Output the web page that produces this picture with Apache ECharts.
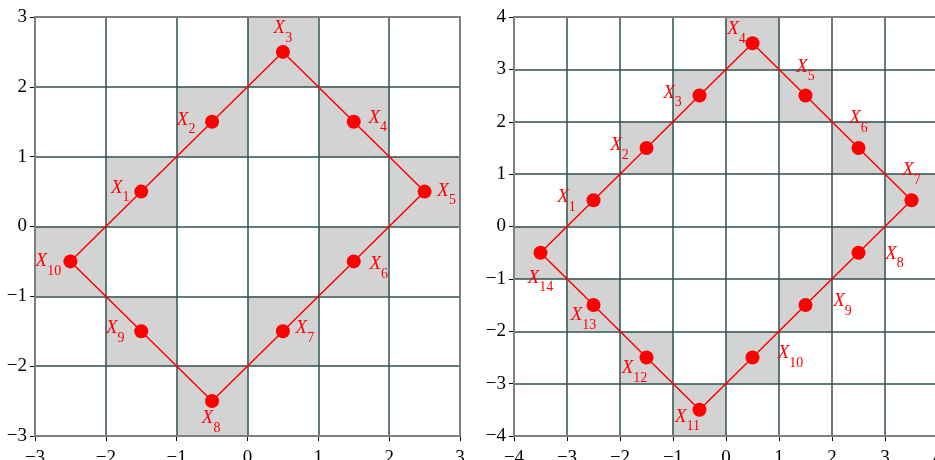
<!DOCTYPE html>
<html>
<head>
<meta charset="utf-8">
<script src="https://cdn.jsdelivr.net/npm/echarts@6/dist/echarts.min.js"></script>
<style>
  html, body { margin: 0; padding: 0; background: #fff; }
  #chart { width: 935px; height: 460px; }
</style>
</head>
<body>
<div id="chart"></div>
<script>
  // left polygon: X1..X10
  const leftX = [-1.5, -0.5, 0.5, 1.5, 2.5, 1.5, 0.5, -0.5, -1.5, -2.5];
  const leftY = [0.5, 1.5, 2.5, 1.5, 0.5, -0.5, -1.5, -2.5, -1.5, -0.5];
  // right polygon: X1..X14
  const rightX = [-2.5, -1.5, -0.5, 0.5, 1.5, 2.5, 3.5, 2.5, 1.5, 0.5, -0.5, -1.5, -2.5, -3.5];
  const rightY = [0.5, 1.5, 2.5, 3.5, 2.5, 1.5, 0.5, -0.5, -1.5, -2.5, -3.5, -2.5, -1.5, -0.5];
  const leftTicks = [-3, 3];
  const rightTicks = [-4, 4];

  // where each label's "X" sits relative to its point (px)
  const leftLabelOffset = [[-21, -4], [-26, -2], [0, -24], [24, -4], [22, -1], [25, 3], [22, -3], [-1, 17], [-26, -3], [-22, 0]];
  const rightLabelOffset = [[-27, -3], [-27, -3], [-27, -3], [-16, -14], [0, -29], [0, -30], [0, -30], [36, 1], [37, -4], [38, -4], [-12, 7], [-12, 11], [-10, 10], [0, 25]];

  const RED = '#ff0000';
  const SERIF = "'Liberation Serif', 'Times New Roman', serif";

  const richLabel = {
    x: { fontFamily: SERIF, fontStyle: 'italic', fontSize: 19, color: RED, lineHeight: 18 },
    s: { fontFamily: SERIF, fontSize: 14, color: RED, lineHeight: 14, padding: [20, 0, 0, 0] }
  };

  function polyData(xs, ys, offs) {
    const d = xs.map((x, i) => ({
      value: [x, ys[i]],
      label: { show: true, position: 'inside', offset: offs[i], formatter: '{x|X}{s|' + (i + 1) + '}', rich: richLabel }
    }));
    // close the loop
    d.push({ value: [xs[0], ys[0]], symbol: 'none', label: { show: false } });
    return d;
  }

  function cellData(xs, ys) {
    return xs.map((x, i) => [Math.floor(x), Math.floor(ys[i])]);
  }

  function renderCell(params, api) {
    const x0 = api.value(0), y0 = api.value(1);
    const p0 = api.coord([x0, y0 + 1]);
    const p1 = api.coord([x0 + 1, y0]);
    return {
      type: 'rect',
      shape: { x: p0[0], y: p0[1], width: p1[0] - p0[0], height: p1[1] - p0[1] },
      style: { fill: '#d3d3d3' }
    };
  }

  const fmt = v => String(v).replace('-', '\u2212');

  function axis(range, idx, margin) {
    return {
      type: 'value', gridIndex: idx, min: range[0], max: range[1], interval: 1, z: 3,
      axisLine: { show: true, onZero: false, lineStyle: { color: '#000', width: 1 } },
      axisTick: { show: true, length: 5, lineStyle: { color: '#000' } },
      axisLabel: { fontFamily: SERIF, fontSize: 19, color: '#000', margin: margin, formatter: fmt },
      splitLine: { show: true, lineStyle: { color: '#2f4f4f', width: 1.5 } }
    };
  }

  const option = {
    animation: false,
    textStyle: { fontFamily: SERIF },
    grid: [
      { left: 35, top: 17, width: 425, height: 419, outerBoundsMode: 'none', containLabel: false, show: true, borderColor: '#808080', borderWidth: 2, z: 4 },
      { left: 514, top: 17, width: 424, height: 419, outerBoundsMode: 'none', containLabel: false, show: true, borderColor: '#808080', borderWidth: 2, z: 4 }
    ],
    xAxis: [axis(leftTicks, 0, 13), axis(rightTicks, 1, 13)],
    yAxis: [axis(leftTicks, 0, 8), axis(rightTicks, 1, 8)],
    series: [
      { type: 'custom', xAxisIndex: 0, yAxisIndex: 0, z: 1, renderItem: renderCell, data: cellData(leftX, leftY), silent: true },
      { type: 'custom', xAxisIndex: 1, yAxisIndex: 1, z: 1, renderItem: renderCell, data: cellData(rightX, rightY), silent: true },
      {
        type: 'line', xAxisIndex: 0, yAxisIndex: 0, z: 5,
        symbol: 'circle', symbolSize: 14,
        itemStyle: { color: RED }, lineStyle: { color: RED, width: 1.5 },
        data: polyData(leftX, leftY, leftLabelOffset)
      },
      {
        type: 'line', xAxisIndex: 1, yAxisIndex: 1, z: 5,
        symbol: 'circle', symbolSize: 14,
        itemStyle: { color: RED }, lineStyle: { color: RED, width: 1.5 },
        data: polyData(rightX, rightY, rightLabelOffset)
      }
    ]
  };

  const myChart = echarts.init(document.getElementById('chart'));
  myChart.setOption(option);
</script>
</body>
</html>
